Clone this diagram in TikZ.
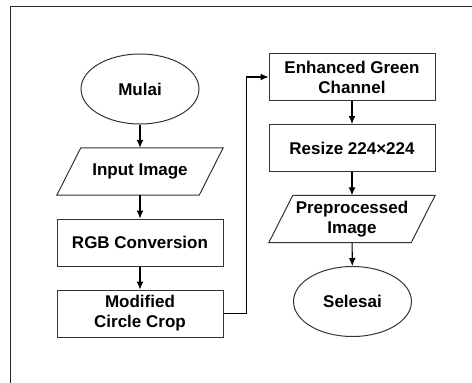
\documentclass[tikz,border=0pt]{standalone}
\usepackage{fontspec}
\setmainfont{Liberation Sans}
\usetikzlibrary{shapes.geometric,arrows.meta}

% slanted input/output box around a node
\newcommand{\slantbox}[1]{%
  \draw[box] ([xshift=12pt]#1.north west) -- ([xshift=12pt]#1.north east)
    -- ([xshift=-12pt]#1.south east) -- ([xshift=-12pt]#1.south west) -- cycle;}

\begin{document}
\begin{tikzpicture}[x=1pt,y=-1pt,
  every node/.style={font=\fontsize{17}{20}\selectfont\bfseries, align=center},
  box/.style={draw=black!80, line width=1pt},
  term/.style={box, ellipse, minimum width=118pt, minimum height=70pt, inner sep=0pt},
  proc/.style={box, rectangle, minimum width=166pt, minimum height=47pt, inner sep=0pt},
  io/.style={rectangle, minimum width=142pt, minimum height=47pt, inner sep=0pt},
  arr/.style={draw=black, line width=1.1pt, -{Latex[length=8pt,width=7pt]}}]
\useasboundingbox (0,0) rectangle (472,383);
\draw[black!85, line width=1.6pt] (10.5,383) -- (10.5,6.5) -- (472,6.5);
\node[term] (mulai) at (140,89) {Mulai};
\node[io] (input) at (140,171.5) {Input Image};
\node[proc] (rgb) at (140,242.5) {RGB Conversion};
\node[proc] (crop) at (140,313.5) {Modified\\Circle Crop};
\node[proc] (green) at (352,77) {Enhanced Green\\Channel};
\node[proc] (resize) at (352,148) {Resize 224×224};
\node[io] (prep) at (352,219) {Preprocessed\\Image};
\node[term] (selesai) at (352.5,301.5) {Selesai};
\slantbox{input}
\slantbox{prep}
\path[arr] (mulai) -- (input);
\path[arr] (input) -- (rgb);
\path[arr] (rgb) -- (crop);
\path[arr] (crop.east) -- ++(23,0) |- (green.west);
\path[arr] (green) -- (resize);
\path[arr] (resize) -- (prep);
\path[arr] (prep) -- (selesai);
\end{tikzpicture}
\end{document}
